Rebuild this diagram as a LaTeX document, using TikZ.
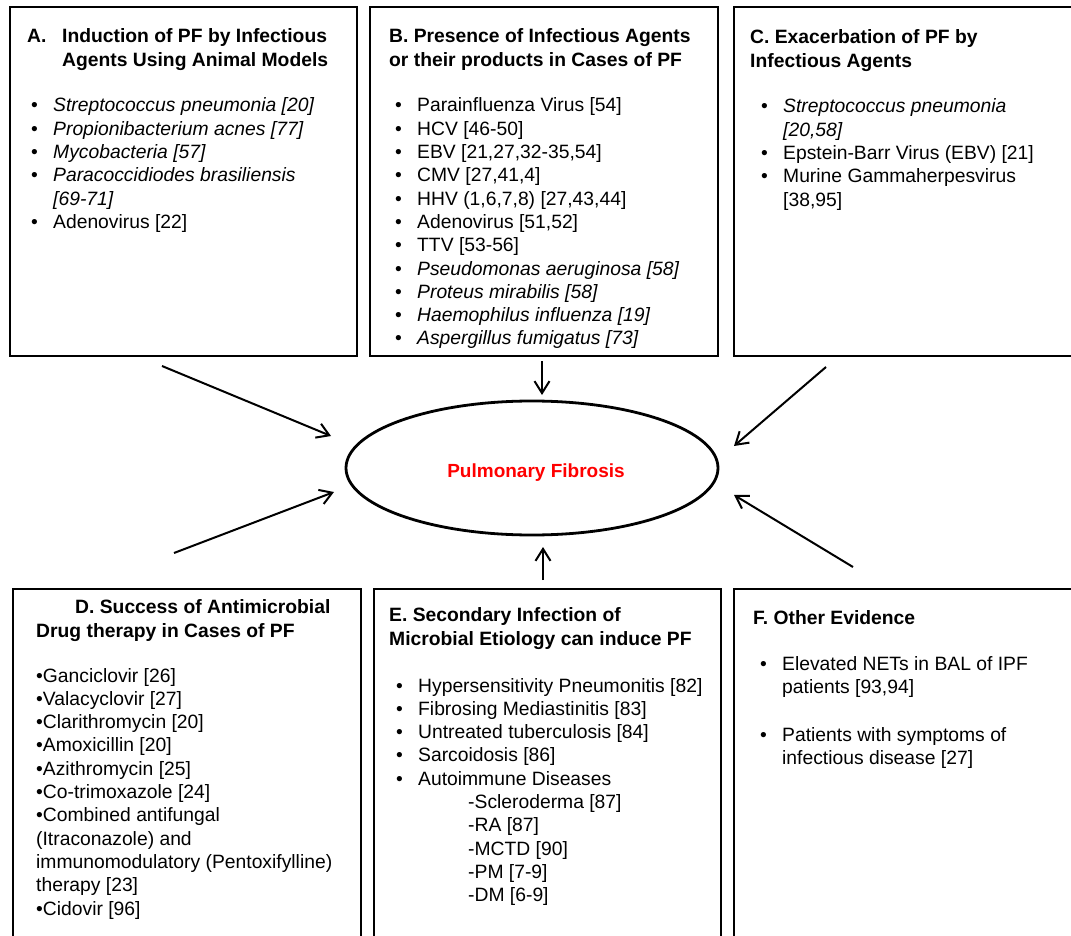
\documentclass[tikz,border=0pt]{standalone}
\usepackage{fontspec}
\setmainfont{Liberation Sans}
\usetikzlibrary{arrows.meta,shapes.geometric}
\newcommand\pbul[1]{\makebox[22pt][l]{•}#1}
\tikzset{
  box/.style={draw, line width=2.2pt, anchor=north west, inner sep=0pt},
  ttl/.style={anchor=base west, inner sep=0pt, font=\fontsize{19.3}{24}\selectfont\bfseries},
  lst/.style={anchor=base west, inner sep=0pt, font=\fontsize{19.3}{23.3}\selectfont},
  arr/.style={line width=2pt, -{Straight Barb[length=12pt,width=15pt]}}
}
\begin{document}
\begin{tikzpicture}[x=1pt,y=-1pt]
\useasboundingbox (0,0) rectangle (1071,936);
\clip (0,0) rectangle (1071,936);
\fill[white] (0,0) rectangle (1071,936);
% boxes
\node[box, minimum width=347pt, minimum height=349pt] (boxA) at (9,6) {};
\node[box, minimum width=348pt, minimum height=349pt] (boxB) at (369,6) {};
\node[box, minimum width=345pt, minimum height=349pt] (boxC) at (733,6) {};
\node[box, minimum width=348pt, minimum height=360pt] (boxD) at (12,588) {};
\node[box, minimum width=347pt, minimum height=360pt] (boxE) at (373,588) {};
\node[box, minimum width=345pt, minimum height=360pt] (boxF) at (733,588) {};
% titles
\node[ttl] (tA) at (27,43) {\parbox[t]{330pt}{\raggedright\makebox[35pt][l]{A.}Induction of PF by Infectious\\\hspace*{35pt}Agents Using Animal Models}};
\node[ttl] (tB) at (389,43) {\parbox[t]{330pt}{\raggedright B. Presence of Infectious Agents\\or their products in Cases of PF}};
\node[ttl] (tC) at (750,44) {\parbox[t]{320pt}{\raggedright C. Exacerbation of PF by\\Infectious Agents}};
\node[ttl] (tD) at (36,613) {\parbox[t]{330pt}{\raggedright\hspace*{39pt}D. Success of Antimicrobial\\Drug therapy in Cases of PF}};
\node[ttl] (tE) at (389,621) {\parbox[t]{330pt}{\raggedright E. Secondary Infection of\\Microbial Etiology can induce PF}};
\node[ttl] (tF) at (753,624) {\parbox[t]{320pt}{\raggedright F. Other Evidence}};
% lists
\node[lst] (lA) at (31,112) {\parbox[t]{330pt}{\raggedright
\pbul{\textit{Streptococcus pneumonia [20]}}\\
\pbul{\textit{Propionibacterium acnes [77]}}\\
\pbul{\textit{Mycobacteria [57]}}\\
\pbul{\textit{Paracoccidiodes brasiliensis}}\\
\hspace*{22pt}\textit{[69-71]}\\
\pbul{Adenovirus [22]}}};
\node[lst] (lB) at (395,112) {\parbox[t]{330pt}{\raggedright
\pbul{Parainfluenza Virus [54]}\\
\pbul{HCV [46-50]}\\
\pbul{EBV [21,27,32-35,54]}\\
\pbul{CMV [27,41,4]}\\
\pbul{HHV (1,6,7,8) [27,43,44]}\\
\pbul{Adenovirus [51,52]}\\
\pbul{TTV [53-56]}\\
\pbul{\textit{Pseudomonas aeruginosa [58]}}\\
\pbul{\textit{Proteus mirabilis [58]}}\\
\pbul{\textit{Haemophilus influenza [19]}}\\
\pbul{\textit{Aspergillus fumigatus [73]}}}};
\node[lst] (lC) at (761,113) {\parbox[t]{320pt}{\raggedright
\pbul{\textit{Streptococcus pneumonia}}\\
\hspace*{22pt}\textit{[20,58]}\\
\pbul{Epstein-Barr Virus (EBV) [21]}\\
\pbul{Murine Gammaherpesvirus}\\
\hspace*{22pt}[38,95]}};
\node[lst] (lD) at (36,682) {\parbox[t]{330pt}{\raggedright
•Ganciclovir [26]\\
•Valacyclovir [27]\\
•Clarithromycin [20]\\
•Amoxicillin [20]\\
•Azithromycin [25]\\
•Co-trimoxazole [24]\\
•Combined antifungal\\
(Itraconazole) and\\
immunomodulatory (Pentoxifylline)\\
therapy [23]\\
•Cidovir [96]}};
\node[lst] (lE) at (396,692) {\parbox[t]{330pt}{\raggedright
\pbul{Hypersensitivity Pneumonitis [82]}\\
\pbul{Fibrosing Mediastinitis [83]}\\
\pbul{Untreated tuberculosis [84]}\\
\pbul{Sarcoidosis [86]}\\
\pbul{Autoimmune Diseases}\\
\hspace*{72pt}-Scleroderma [87]\\
\hspace*{72pt}-RA [87]\\
\hspace*{72pt}-MCTD [90]\\
\hspace*{72pt}-PM [7-9]\\
\hspace*{72pt}-DM [6-9]}};
\node[lst] (lF) at (760,670) {\parbox[t]{320pt}{\raggedright
\pbul{Elevated NETs in BAL of IPF}\\
\hspace*{22pt}patients [93,94]\\[24.7pt]
\pbul{Patients with symptoms of}\\
\hspace*{22pt}infectious disease [27]}};
% central ellipse
\node[ellipse, draw, line width=2.8pt, minimum width=372pt, minimum height=134pt, inner sep=0pt] (pf) at (532,468) {};
\node[anchor=base, inner sep=0pt, font=\fontsize{19}{21}\selectfont\bfseries, text=red] (pft) at (536,477) {Pulmonary Fibrosis};
% arrow ends
\coordinate (a1) at (162,366); \coordinate (a2) at (331,436);
\coordinate (b1) at (542,361); \coordinate (b2) at (542,395);
\coordinate (c1) at (826,367); \coordinate (c2) at (734,446);
\coordinate (d1) at (174,553); \coordinate (d2) at (334,492);
\coordinate (e1) at (543,580); \coordinate (e2) at (543,547);
\coordinate (f1) at (853,567); \coordinate (f2) at (734,495);
\draw[arr] (a1) -- (a2);
\draw[arr] (b1) -- (b2);
\draw[arr] (c1) -- (c2);
\draw[arr] (d1) -- (d2);
\draw[arr] (e1) -- (e2);
\draw[arr] (f1) -- (f2);
\end{tikzpicture}
\end{document}
